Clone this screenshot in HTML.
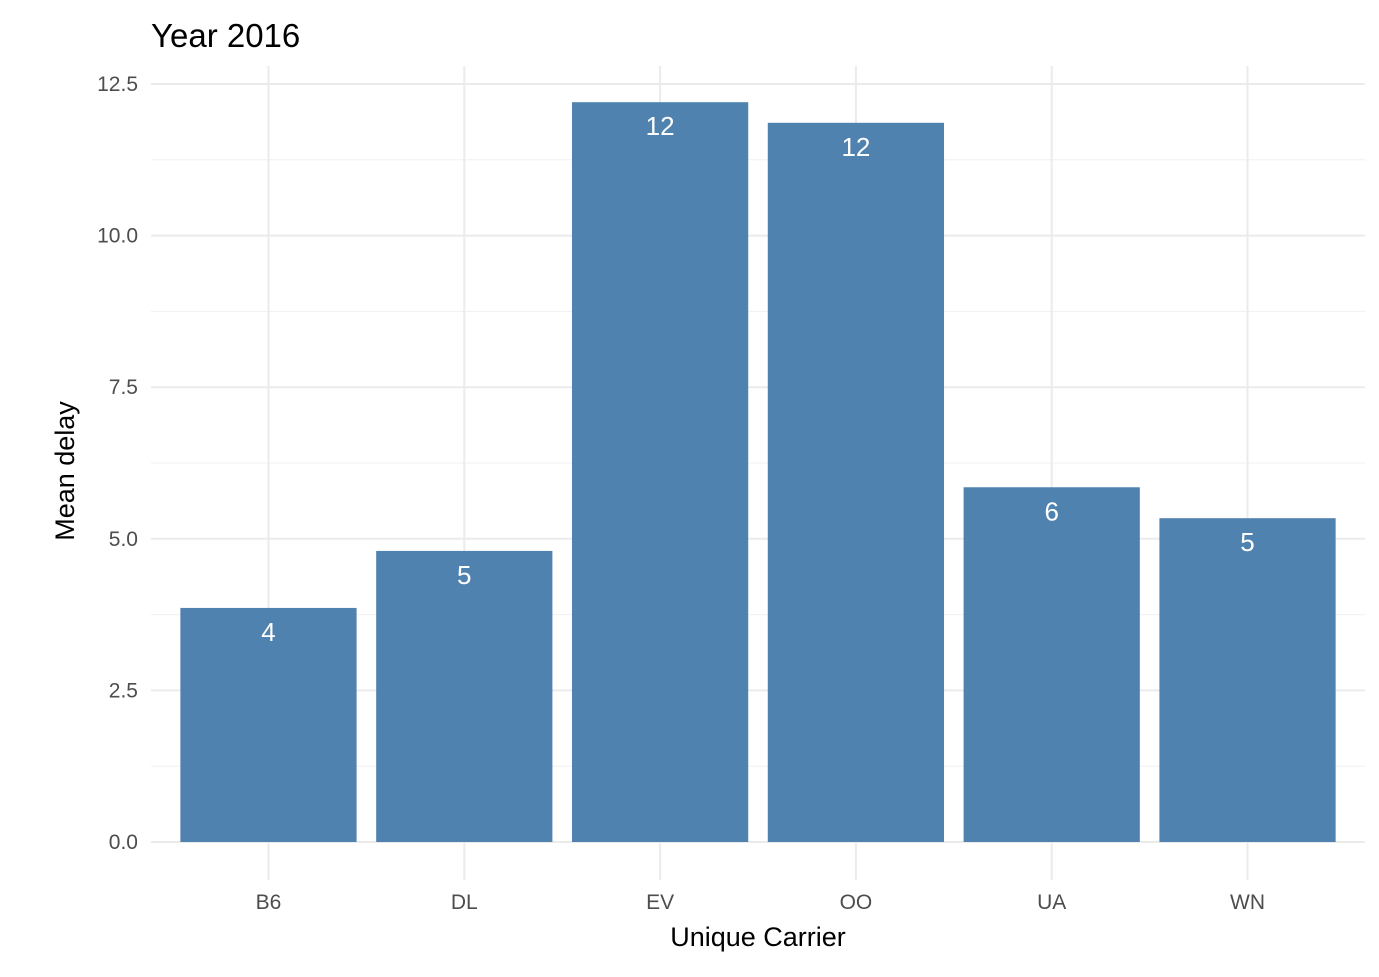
<!DOCTYPE html>
<html><head><meta charset="utf-8"><style>
body{margin:0;background:#fff}
svg text{font-family:"Liberation Sans",Arial,sans-serif}
</style></head><body>
<svg id="chart" width="1379" height="972" xmlns="http://www.w3.org/2000/svg">
<text x="151" y="47" font-size="33" fill="#000">Year 2016</text>
<g id="grid"></g><g id="bars"></g><g id="labels"></g>
<text x="758" y="946" font-size="27" text-anchor="middle" fill="#000">Unique Carrier</text>
<text transform="translate(74,471) rotate(-90)" font-size="27" text-anchor="middle" fill="#000">Mean delay</text>
</svg>
<script>
const categories=["B6","DL","EV","OO","UA","WN"];
const values=[3.86,4.80,12.20,11.86,5.85,5.34];
const valueLabels=["4","5","12","12","6","5"];
const yTicks=[0,2.5,5,7.5,10,12.5];
const yTickLabels=["0.0","2.5","5.0","7.5","10.0","12.5"];
const NS="http://www.w3.org/2000/svg";
const px0=151,px1=1365,py0=842,pyTop=84,panelTop=66,panelBot=880;
const y=v=>py0-(v/12.5)*(py0-pyTop);
const step=(px1-px0)/(categories.length-1+1.2);
const x=i=>px0+step*(0.6+i);
function mk(t,a,p){const e=document.createElementNS(NS,t);for(const k in a)e.setAttribute(k,a[k]);p.appendChild(e);return e;}
const g=document.getElementById('grid'),b=document.getElementById('bars'),l=document.getElementById('labels');
for(let k=0;k<yTicks.length-1;k++){const v=(yTicks[k]+yTicks[k+1])/2;
const e=mk('line',{x1:px0,x2:px1,y1:y(v),y2:y(v),stroke:'#f0f0f0','stroke-width':1},g);

}
yTicks.forEach((v,k)=>{const e=mk('line',{x1:px0,x2:px1,y1:y(v),y2:y(v),stroke:'#ebebeb','stroke-width':2},g);


const t=mk('text',{x:138,y:y(v)+7,'font-size':21,fill:'#4d4d4d','text-anchor':'end'},l);t.textContent=yTickLabels[k];

});
categories.forEach((c,i)=>{const e=mk('line',{x1:x(i),x2:x(i),y1:panelTop,y2:panelBot,stroke:'#ebebeb','stroke-width':2},g);


const w=step*0.9;
const r=mk('rect',{x:x(i)-w/2,y:y(values[i]),width:w,height:py0-y(values[i]),fill:'#5082b0'},b);


const t=mk('text',{x:x(i),y:y(values[i])+33,'font-size':26,fill:'#fff','text-anchor':'middle'},l);t.textContent=valueLabels[i];


const tl=mk('text',{x:x(i),y:909,'font-size':21,fill:'#4d4d4d','text-anchor':'middle'},l);tl.textContent=c;

});
</script>
</body></html>
